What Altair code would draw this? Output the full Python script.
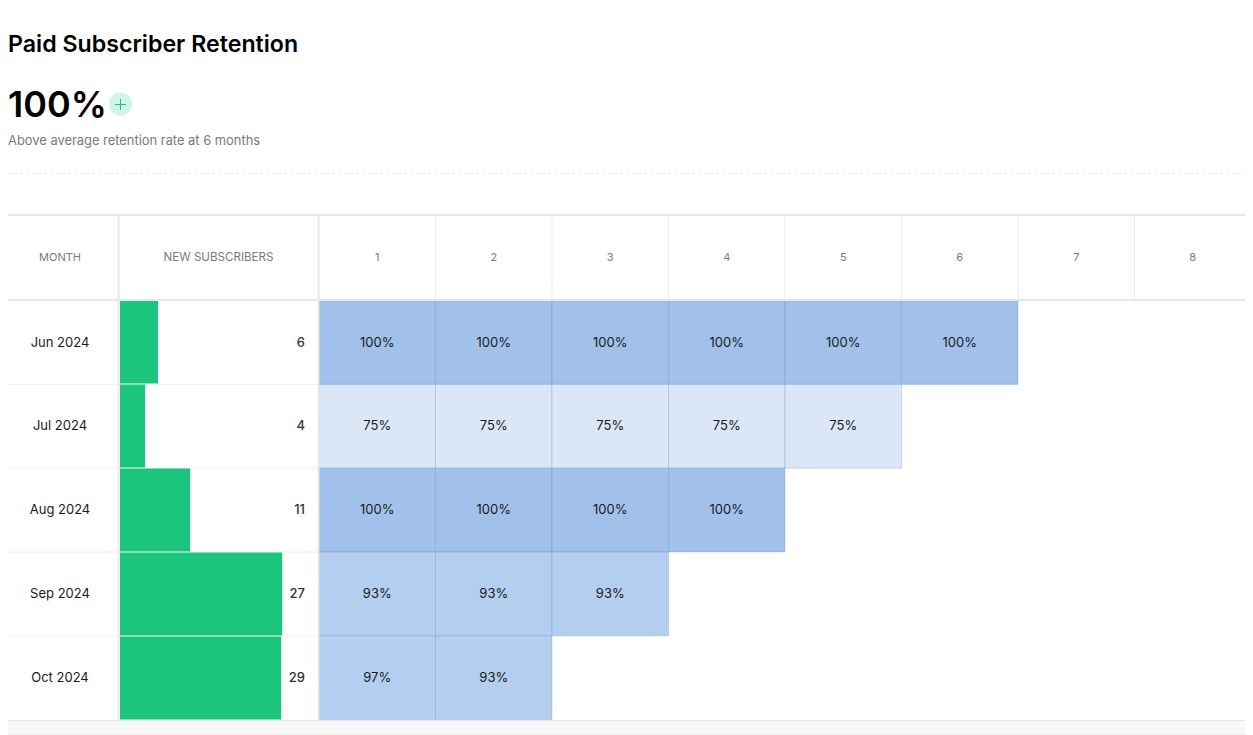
import altair as alt
import pandas as pd

# ---- data ----
months = ["Jun 2024", "Jul 2024", "Aug 2024", "Sep 2024", "Oct 2024"]
new_subscribers = [6, 4, 11, 27, 29]
bar_share = [19.2, 12.7, 35.4, 81.9, 81.4]  # bar length, % of the column width
periods = [1, 2, 3, 4, 5, 6, 7, 8]
retention = [
    [100, 100, 100, 100, 100, 100],
    [75, 75, 75, 75, 75],
    [100, 100, 100, 100],
    [93, 93, 93],
    [97, 93],
]
color_breaks = [80, 98]
color_values = ["#dbe6f6", "#b3ceee", "#a1c1ea"]

# ---- page frame: the svg starts 8px into the page and may be 1237px wide ----
OX, OY = 8, 8
W, H = 1237, 727
RIGHT = OX + W
FONT = "Inter"
LINE = "#e7e7e7"

X_HEAT = [319 - OX, 1251 - OX]
X_BAR = [120 - OX, 318 - OX]
Y_ROWS = [300.6 - OY, 719.6 - OY]

cells = pd.DataFrame(
    [
        {"month": m, "period": p, "value": v, "label": f"{v}%"}
        for m, row in zip(months, retention)
        for p, v in zip(periods, row)
    ]
)
rows = pd.DataFrame({"month": months, "n": new_subscribers, "share": bar_share})
heads = pd.DataFrame({"period": periods})


def vx(px):
    return alt.value(px - OX)


def vy(px):
    return alt.value(px - OY)


y_band = alt.Y("month:N", axis=None, scale=alt.Scale(domain=months, range=Y_ROWS, paddingInner=0, paddingOuter=0))
y_bar = alt.Y("month:N", axis=None, scale=alt.Scale(domain=months, range=Y_ROWS, paddingInner=0.012, paddingOuter=0, align=0))
x_heat = alt.X("period:O", axis=None, scale=alt.Scale(domain=periods, range=X_HEAT, paddingInner=0, paddingOuter=0))
x_edge = alt.X("edge:Q", axis=None, scale=alt.Scale(domain=[0, len(periods)], range=X_HEAT))
y_edge = alt.Y("edge:Q", axis=None, scale=alt.Scale(domain=[0, len(months)], range=Y_ROWS))

# row separators under the cells
row_lines = alt.Chart(pd.DataFrame({"edge": list(range(1, len(months)))})).mark_rule(
    color="#eeeeee", strokeWidth=1
).encode(y=y_edge, x=vx(OX), x2=vx(319))

# retention cells
cell_rects = alt.Chart(cells).mark_rect(stroke="#4f7fc0", strokeOpacity=0.25, strokeWidth=1).encode(
    x=x_heat,
    y=y_band,
    color=alt.Color(
        "value:Q",
        legend=None,
        scale=alt.Scale(type="threshold", domain=color_breaks, range=color_values),
    ),
)
cell_text = alt.Chart(cells).mark_text(font=FONT, fontSize=13, color="#1a1a1a").encode(
    x=x_heat, y=y_band, text="label:N"
)

# new-subscriber bars
bars = alt.Chart(rows).mark_bar(color="#1bc67c").encode(
    x=alt.X("share:Q", axis=None, scale=alt.Scale(domain=[0, 100], range=X_BAR)),
    x2=alt.datum(0),
    y=y_bar,
)
bar_text = alt.Chart(rows).mark_text(
    font=FONT, fontSize=13, fontWeight=500, color="#333333", align="right"
).encode(x=vx(305), y=y_band, text="n:Q")
month_text = alt.Chart(rows).mark_text(font=FONT, fontSize=13, color="#1a1a1a").encode(
    x=vx(60), y=y_band, text="month:N"
)

# header
head_lines = alt.Chart(pd.DataFrame({"edge": list(range(1, len(periods)))})).mark_rule(
    color="#ebebeb", strokeWidth=1
).encode(x=x_edge, y=vy(216), y2=vy(300))
head_text = alt.Chart(heads).mark_text(font=FONT, fontSize=11, color="#7a7a7a").encode(
    x=x_heat, y=vy(258), text="period:O"
)


def label(text, x, y, **kw):
    return alt.Chart(pd.DataFrame({"t": [text]})).mark_text(font=FONT, **kw).encode(
        x=vx(x), y=vy(y), text="t:N"
    )


def hline(y, x0=OX, x1=RIGHT, **kw):
    return alt.Chart(pd.DataFrame({"k": [0]})).mark_rule(**kw).encode(x=vx(x0), x2=vx(x1), y=vy(y))


def vline(x, y0, y1, **kw):
    return alt.Chart(pd.DataFrame({"k": [0]})).mark_rule(**kw).encode(x=vx(x), y=vy(y0), y2=vy(y1))


layers = [
    label("Paid Subscriber Retention", OX, 44.5, fontSize=23.2, fontWeight=600, color="#000000", align="left"),
    label("100%", OX, 105.5, fontSize=36, fontWeight=600, color="#000000", align="left"),
    alt.Chart(pd.DataFrame({"k": [0]})).mark_circle(size=530, color="#cff5e6", opacity=1).encode(
        x=vx(120.5), y=vy(104)
    ),
    hline(104.5, 115, 126, color="#1bc67c", strokeWidth=1),
    vline(120.5, 99, 110, color="#1bc67c", strokeWidth=1),
    label("Above average retention rate at 6 months", OX, 140.7, fontSize=12.9, color="#7a7a7a", align="left"),
    hline(173.5, color="#e8e8e8", strokeWidth=1, strokeDash=[3, 3]),
    row_lines,
    bars,
    cell_rects,
    head_lines,
    hline(215, color=LINE, strokeWidth=2),
    hline(300, color=LINE, strokeWidth=2),
    vline(118.7, 215, 720, color=LINE, strokeWidth=1.8),
    vline(318.7, 215, 720, color=LINE, strokeWidth=1.8),
    alt.Chart(pd.DataFrame({"k": [0]})).mark_rect(color="#f8f8f8").encode(
        x=vx(OX), x2=vx(RIGHT), y=vy(720), y2=vy(734)
    ),
    hline(720.5, color="#e5e5e5", strokeWidth=1),
    hline(734.5, color="#eeeeee", strokeWidth=1),
    label("MONTH", 60, 258, fontSize=11, color="#7a7a7a"),
    label("NEW SUBSCRIBERS", 218.5, 258, fontSize=11.6, color="#7a7a7a"),
    head_text,
    month_text,
    bar_text,
    cell_text,
]

chart = (
    alt.layer(*layers)
    .resolve_scale(x="independent", y="independent", color="independent")
    .properties(width=W, height=H, padding=0, autosize=alt.AutoSizeParams(type="none"))
    .configure_view(stroke=None)
)

chart.save("out.html", embed_options={"renderer": "svg", "actions": False})
